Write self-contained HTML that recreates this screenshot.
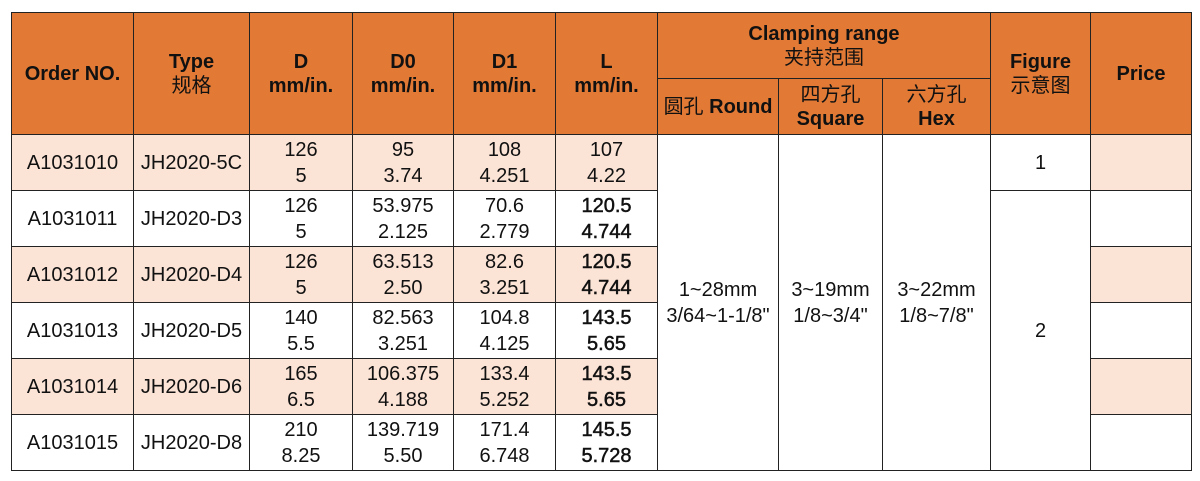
<!DOCTYPE html>
<html><head><meta charset="utf-8"><style>
body{margin:0;background:#fff;width:1200px;height:481px;overflow:hidden}
table{position:absolute;left:11px;top:12px;border-collapse:collapse;table-layout:fixed;font-family:"Liberation Sans","Noto Sans CJK SC",sans-serif;}
td{border:1.5px solid #222;text-align:center;vertical-align:middle;padding:0;font-size:20px;line-height:26px;color:#111}
.h{background:#e27a36;font-weight:bold;font-size:20px;line-height:24px}
.cn{font-weight:normal}
.p{background:#fbe3d6}
.b{-webkit-text-stroke:0.5px #111;color:#111}
</style></head><body>
<table>
<colgroup><col style="width:122px"><col style="width:116px"><col style="width:103px"><col style="width:101px"><col style="width:102px"><col style="width:102px"><col style="width:121px"><col style="width:104px"><col style="width:108px"><col style="width:100px"><col style="width:101px"></colgroup>
<tr style="height:66px"><td class="h" rowspan="2">Order NO.</td><td class="h" rowspan="2">Type<br><span class="cn">规格</span></td><td class="h" rowspan="2">D<br>mm/in.</td><td class="h" rowspan="2">D0<br>mm/in.</td><td class="h" rowspan="2">D1<br>mm/in.</td><td class="h" rowspan="2">L<br>mm/in.</td><td class="h" colspan="3">Clamping range<br><span class="cn">夹持范围</span></td><td class="h" rowspan="2">Figure<br><span class="cn">示意图</span></td><td class="h" rowspan="2">Price</td></tr>
<tr style="height:56px"><td class="h"><span class="cn">圆孔</span> Round</td><td class="h"><span class="cn">四方孔</span><br>Square</td><td class="h"><span class="cn">六方孔</span><br>Hex</td></tr>
<tr style="height:56px"><td class="p">A1031010</td><td class="p">JH2020-5C</td><td class="p">126<br>5</td><td class="p">95<br>3.74</td><td class="p">108<br>4.251</td><td class="p">107<br>4.22</td><td rowspan="6">1~28mm<br>3/64~1-1/8"</td><td rowspan="6">3~19mm<br>1/8~3/4"</td><td rowspan="6">3~22mm<br>1/8~7/8"</td><td>1</td><td class="p"></td></tr>
<tr style="height:56px"><td>A1031011</td><td>JH2020-D3</td><td>126<br>5</td><td>53.975<br>2.125</td><td>70.6<br>2.779</td><td class="b">120.5<br>4.744</td><td rowspan="5">2</td><td></td></tr>
<tr style="height:56px"><td class="p">A1031012</td><td class="p">JH2020-D4</td><td class="p">126<br>5</td><td class="p">63.513<br>2.50</td><td class="p">82.6<br>3.251</td><td class="p b">120.5<br>4.744</td><td class="p"></td></tr>
<tr style="height:56px"><td>A1031013</td><td>JH2020-D5</td><td>140<br>5.5</td><td>82.563<br>3.251</td><td>104.8<br>4.125</td><td class="b">143.5<br>5.65</td><td></td></tr>
<tr style="height:56px"><td class="p">A1031014</td><td class="p">JH2020-D6</td><td class="p">165<br>6.5</td><td class="p">106.375<br>4.188</td><td class="p">133.4<br>5.252</td><td class="p b">143.5<br>5.65</td><td class="p"></td></tr>
<tr style="height:56px"><td>A1031015</td><td>JH2020-D8</td><td>210<br>8.25</td><td>139.719<br>5.50</td><td>171.4<br>6.748</td><td class="b">145.5<br>5.728</td><td></td></tr>
</table>
</body></html>
